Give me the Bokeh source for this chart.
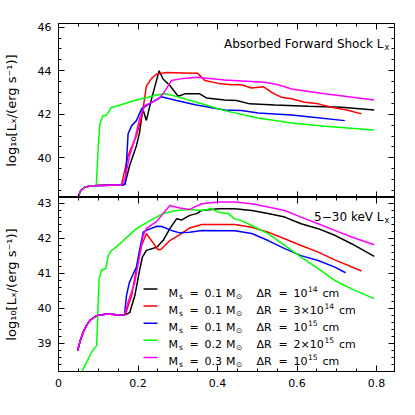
from bokeh.plotting import figure
from bokeh.layouts import column
from bokeh.models import (Range1d, LinearAxis, SingleIntervalTicker, Label, Arrow,
                          CustomJSTickFormatter)
from bokeh.embed import file_html
from bokeh.resources import INLINE

# ---------------- data: top panel (Absorbed forward shock Lx) ----------------
top_black_x = [0.049, 0.056, 0.066, 0.08, 0.1, 0.13, 0.16, 0.167, 0.179, 0.196, 0.204, 0.212, 0.221,
               0.234, 0.253, 0.263, 0.28, 0.301, 0.318, 0.347, 0.355, 0.372, 0.418, 0.448, 0.481,
               0.544, 0.628, 0.712, 0.794]
top_black_y = [38.19, 38.5, 38.65, 38.71, 38.73, 38.74, 38.74, 38.8, 39.65, 40.56, 41.17, 42.25, 41.72,
               42.71, 44.0, 43.62, 43.32, 42.83, 42.94, 42.94, 42.94, 42.75, 42.66, 42.63, 42.48,
               42.43, 42.37, 42.32, 42.2]

top_red_x = [0.049, 0.056, 0.066, 0.08, 0.1, 0.13, 0.158, 0.175, 0.196, 0.205, 0.213, 0.221, 0.234,
             0.247, 0.272, 0.314, 0.35, 0.368, 0.402, 0.435, 0.46, 0.485, 0.515, 0.536, 0.561,
             0.586, 0.62, 0.653, 0.687, 0.725, 0.762]
top_red_y = [38.19, 38.5, 38.65, 38.71, 38.73, 38.74, 38.74, 40.1, 41.02, 41.6, 42.3, 43.3, 43.65,
             43.85, 43.92, 43.9, 43.88, 43.55, 43.42, 43.36, 43.36, 43.21, 43.27, 43.01, 42.78,
             42.71, 42.55, 42.48, 42.32, 42.2, 42.02]

top_blue_x = [0.049, 0.056, 0.066, 0.08, 0.1, 0.13, 0.158, 0.168, 0.175, 0.184, 0.196, 0.209, 0.221,
              0.242, 0.259, 0.264, 0.297, 0.347, 0.418, 0.46, 0.502, 0.586, 0.628, 0.72]
top_blue_y = [38.19, 38.5, 38.65, 38.71, 38.73, 38.74, 38.74, 38.8, 41.1, 41.48, 41.71, 42.25, 42.4,
              42.63, 42.81, 42.78, 42.63, 42.43, 42.2, 42.17, 42.06, 41.97, 41.89, 41.71]

top_green_x = [0.049, 0.056, 0.066, 0.08, 0.095, 0.1, 0.104, 0.112, 0.12, 0.133, 0.141, 0.192, 0.25,
               0.27, 0.3, 0.347, 0.418, 0.502, 0.586, 0.67, 0.794]
top_green_y = [38.19, 38.5, 38.65, 38.71, 38.73, 40.5, 41.56, 41.94, 41.94, 42.32, 42.35, 42.63, 42.9,
               42.94, 42.8, 42.55, 42.17, 41.83, 41.6, 41.45, 41.28]

top_magenta_x = [0.049, 0.056, 0.066, 0.08, 0.1, 0.13, 0.158, 0.167, 0.179, 0.192, 0.204, 0.217,
                 0.238, 0.251, 0.263, 0.284, 0.314, 0.347, 0.418, 0.485, 0.519, 0.553, 0.586,
                 0.67, 0.794]
top_magenta_y = [38.19, 38.5, 38.65, 38.71, 38.73, 38.74, 38.74, 39.04, 40.1, 40.87, 41.79, 42.4,
                 42.58, 42.7, 42.94, 43.55, 43.65, 43.7, 43.58, 43.51, 43.47, 43.36, 43.16,
                 42.94, 42.66]

# ---------------- data: bottom panel (5-30 keV Lx) ----------------
bot_black_x = [0.048, 0.055, 0.062, 0.07, 0.079, 0.09, 0.098, 0.11, 0.121, 0.14, 0.158, 0.17, 0.179,
               0.192, 0.203, 0.211, 0.221, 0.247, 0.263, 0.28, 0.297, 0.31, 0.33, 0.347, 0.36,
               0.402, 0.443, 0.486, 0.527, 0.569, 0.61, 0.653, 0.695, 0.737, 0.794]
bot_black_y = [38.79, 39.08, 39.31, 39.5, 39.65, 39.74, 39.79, 39.81, 39.83, 39.82, 39.8, 39.82, 39.87,
               40.36, 41.03, 41.46, 41.65, 41.74, 41.93, 42.27, 42.55, 42.52, 42.65, 42.7, 42.79,
               42.84, 42.84, 42.79, 42.7, 42.6, 42.41, 42.27, 42.08, 41.84, 41.48]

bot_red_x = [0.048, 0.055, 0.062, 0.07, 0.079, 0.09, 0.098, 0.11, 0.121, 0.14, 0.158, 0.168, 0.184,
             0.196, 0.209, 0.221, 0.25, 0.258, 0.28, 0.305, 0.33, 0.36, 0.443, 0.486, 0.527,
             0.569, 0.61, 0.653, 0.695, 0.762]
bot_red_y = [38.79, 39.08, 39.31, 39.5, 39.65, 39.74, 39.79, 39.81, 39.83, 39.82, 39.8, 39.82, 40.36,
             41.13, 41.79, 42.13, 41.67, 41.68, 41.93, 42.1, 42.29, 42.39, 42.39, 42.31, 42.17,
             41.98, 41.79, 41.6, 41.38, 41.06]

bot_blue_x = [0.048, 0.055, 0.062, 0.07, 0.079, 0.09, 0.098, 0.11, 0.121, 0.14, 0.158, 0.166, 0.171,
              0.178, 0.188, 0.196, 0.203, 0.213, 0.221, 0.247, 0.26, 0.284, 0.305, 0.33, 0.36,
              0.443, 0.486, 0.527, 0.569, 0.61, 0.653, 0.695, 0.722]
bot_blue_y = [38.79, 39.08, 39.31, 39.5, 39.65, 39.74, 39.79, 39.81, 39.83, 39.82, 39.8, 39.82, 40.36,
              40.72, 40.98, 41.17, 41.6, 42.17, 42.22, 42.34, 42.33, 42.22, 42.15, 42.17, 42.22,
              42.21, 42.13, 41.93, 41.7, 41.5, 41.36, 41.17, 41.01]

bot_green_x = [0.058, 0.071, 0.083, 0.096, 0.102, 0.108, 0.119, 0.125, 0.133, 0.14, 0.163, 0.196,
               0.23, 0.263, 0.297, 0.33, 0.36, 0.385, 0.402, 0.427, 0.443, 0.46, 0.486, 0.527,
               0.569, 0.61, 0.653, 0.695, 0.737, 0.794]
bot_green_y = [38.17, 38.46, 38.74, 38.93, 40.84, 41.08, 41.13, 41.5, 41.65, 41.7, 41.93, 42.27,
               42.5, 42.7, 42.79, 42.82, 42.79, 42.84, 42.74, 42.7, 42.55, 42.5, 42.36, 42.13,
               41.79, 41.46, 41.13, 40.79, 40.55, 40.27]

bot_magenta_x = [0.048, 0.055, 0.062, 0.07, 0.079, 0.09, 0.098, 0.11, 0.121, 0.14, 0.158, 0.166,
                 0.175, 0.192, 0.204, 0.213, 0.221, 0.247, 0.263, 0.28, 0.305, 0.33, 0.36, 0.402,
                 0.443, 0.486, 0.527, 0.569, 0.61, 0.653, 0.695, 0.737, 0.794]
bot_magenta_y = [38.79, 39.08, 39.31, 39.5, 39.65, 39.74, 39.79, 39.81, 39.83, 39.82, 39.8, 39.82,
                 40.17, 40.74, 41.5, 42.08, 42.27, 42.48, 42.7, 42.93, 42.86, 42.82, 42.98, 43.03,
                 43.03, 42.98, 42.89, 42.79, 42.6, 42.41, 42.22, 42.03, 41.81]

colors = ["black", "#ff0000", "#0000ff", "#00ff00", "#ff00ff"]
legend_ms = ["0.1", "0.1", "0.1", "0.2", "0.3"]
legend_dr_mant = ["10", "3×10", "10", "2×10", "10"]
legend_dr_exp = ["14", "14", "15", "15", "15"]

x_tick_labels = ["0", "0.2", "0.4", "0.6", "0.8"]
ylabel = "log₁₀[Lₓ/(erg s⁻¹)]"

FONT = "DejaVu Sans"


def style_axis(ax, labels, minor_in=3):
    ax.axis_line_color = "black"
    ax.axis_line_width = 1
    ax.major_tick_in = 6
    ax.major_tick_out = 0
    ax.minor_tick_in = minor_in
    ax.minor_tick_out = 0
    ax.major_tick_line_color = "black"
    ax.minor_tick_line_color = "black"
    ax.major_label_text_font = FONT
    if labels:
        ax.major_label_text_color = "black"
        ax.major_label_text_font_size = "11px"
        ax.major_label_standoff = 7
    else:
        ax.major_label_text_color = None
        ax.major_label_text_font_size = "0px"
        ax.major_label_standoff = 0


def make_panel(yr, y_interval, y_minor, top_border, bottom_border, xlabels):
    p = figure(frame_width=336, frame_height=174,
               x_range=Range1d(0, 0.845), y_range=yr,
               output_backend="svg", toolbar_location=None,
               x_axis_location=None, y_axis_location=None,
               min_border_left=57, min_border_right=14,
               min_border_top=top_border, min_border_bottom=bottom_border)
    p.grid.visible = False
    p.outline_line_color = "black"
    p.background_fill_color = "white"
    p.border_fill_color = "white"

    left = LinearAxis(ticker=SingleIntervalTicker(interval=y_interval, num_minor_ticks=y_minor),
                      axis_label=ylabel)
    style_axis(left, True)
    left.axis_label_text_font = FONT
    left.axis_label_text_font_size = "13px"
    left.axis_label_text_font_style = "normal"
    left.axis_label_text_color = "black"
    left.axis_label_standoff = 16
    p.add_layout(left, "left")

    right = LinearAxis(ticker=SingleIntervalTicker(interval=y_interval, num_minor_ticks=y_minor))
    style_axis(right, False)
    p.add_layout(right, "right")

    below = LinearAxis(ticker=SingleIntervalTicker(interval=0.2, num_minor_ticks=4))
    style_axis(below, xlabels)
    if xlabels:
        below.formatter = CustomJSTickFormatter(
            args=dict(labs=x_tick_labels),
            code="const i = Math.round(tick / 0.2); return (i >= 0 && i < labs.length) ? labs[i] : '';")
    p.add_layout(below, "below")

    above = LinearAxis(ticker=SingleIntervalTicker(interval=0.2, num_minor_ticks=4))
    style_axis(above, False)
    p.add_layout(above, "above")
    return p


p1 = make_panel(Range1d(38.18, 46.17), 2, 4, 23, 0, False)
p2 = make_panel(Range1d(38.19, 43.16), 1, 5, 0, 40, True)

top_series = [(top_black_x, top_black_y), (top_red_x, top_red_y), (top_blue_x, top_blue_y),
              (top_green_x, top_green_y), (top_magenta_x, top_magenta_y)]
bot_series = [(bot_black_x, bot_black_y), (bot_red_x, bot_red_y), (bot_blue_x, bot_blue_y),
              (bot_green_x, bot_green_y), (bot_magenta_x, bot_magenta_y)]

for (xs, ys), c in zip(top_series, colors):
    p1.line(xs, ys, line_color=c, line_width=1.5)
for (xs, ys), c in zip(bot_series, colors):
    p2.line(xs, ys, line_color=c, line_width=1.5)


def lab(p, x, y, text, size="11px", align="left"):
    p.add_layout(Label(x=x, y=y, x_units="screen", y_units="screen", text=text,
                       text_font=FONT, text_font_size=size, text_color="black",
                       text_baseline="alphabetic", text_align=align))


# panel titles
lab(p1, 325, 154, "Absorbed Forward Shock L", "12px", "right")
lab(p1, 326, 150.5, "x", "8px")
lab(p2, 325, 155, "5−30 keV L", "12px", "right")
lab(p2, 326, 151.5, "x", "8px")

# legend
for i, c in enumerate(colors):
    base = 78.5 - i * 17.1
    p2.add_layout(Arrow(end=None, x_start=85, y_start=base + 4, x_end=99, y_end=base + 4,
                        start_units="screen", end_units="screen",
                        line_color=c, line_width=1.5))
    lab(p2, 110, base, "M")
    lab(p2, 120.5, base - 3, "s", "7.5px")
    lab(p2, 131, base, "=")
    lab(p2, 146, base, legend_ms[i])
    lab(p2, 167.5, base, "M")
    lab(p2, 177.5, base - 3, "⊙", "7.5px")
    lab(p2, 198, base, "ΔR")
    lab(p2, 220, base, "=")
    lab(p2, 235, base, legend_dr_mant[i])
    sup_x = 249.5 if len(legend_dr_mant[i]) == 2 else 266
    lab(p2, sup_x, base + 4.5, legend_dr_exp[i], "7.5px")
    lab(p2, sup_x + 14.5, base, "cm")

layout = column(p1, p2, spacing=0)
open("out.html", "w").write(file_html(layout, INLINE))
